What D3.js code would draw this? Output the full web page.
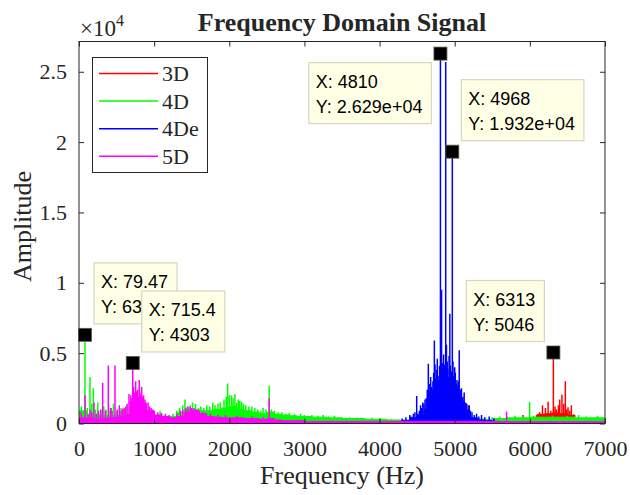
<!DOCTYPE html>
<html>
<head>
<meta charset="utf-8">
<script src="https://cdn.jsdelivr.net/npm/d3@7"></script>
<style>
  body { margin: 0; background: #fff; }
  text { font-family: "Liberation Serif", "Times New Roman", serif; fill: #262626; }
  .tip text { font-family: "Liberation Sans", Arial, sans-serif; fill: #000; }
</style>
</head>
<body>
<svg id="chart" width="630" height="495"></svg>
<script>
// spectra: noise floor in 100 Hz bins plus the visible spikes [Hz, amplitude]
const binHz = 100;

const floor3D = [
  80, 80, 80, 80, 80, 80, 80, 80, 80, 80,
  80, 80, 80, 80, 80, 80, 80, 80, 80, 80,
  80, 80, 80, 80, 80, 80, 80, 80, 80, 80,
  80, 80, 80, 80, 80, 80, 80, 80, 80, 80,
  80, 80, 80, 80, 80, 80, 80, 80, 80, 80,
  80, 80, 80, 80, 80, 80, 80, 80, 80, 80,
  150, 650, 700, 750, 700, 600, 200, 100, 100, 100
];
const floor4D = [
  900, 600, 600, 550, 550, 600, 650, 700, 700, 600,
  500, 450, 500, 800, 1000, 1000, 900, 900, 1000, 1100,
  1200, 1000, 900, 800, 700, 800, 650, 600, 550, 500,
  500, 450, 450, 400, 400, 350, 350, 350, 300, 300,
  300, 250, 250, 250, 250, 300, 300, 300, 300, 300,
  300, 300, 300, 300, 300, 350, 350, 400, 400, 400,
  450, 450, 450, 450, 450, 450, 400, 400, 400, 400
];
const floor4De = [
  30, 30, 30, 30, 30, 30, 30, 30, 30, 30,
  30, 30, 30, 30, 30, 30, 30, 30, 30, 30,
  30, 30, 30, 30, 30, 30, 30, 30, 30, 30,
  30, 30, 30, 30, 30, 30, 30, 30, 30, 30,
  30, 30, 80, 200, 400, 600, 1000, 1600, 2000, 1900,
  1400, 900, 400, 250, 200, 150, 80, 80, 80, 80,
  80, 80, 80, 80, 80, 80, 80, 80, 80, 80
];
const floor5D = [
  400, 350, 300, 350, 400, 450, 600, 1300, 1400, 900,
  600, 500, 400, 500, 800, 900, 700, 500, 450, 400,
  400, 400, 350, 350, 300, 350, 250, 200, 200, 200,
  150, 150, 150, 150, 150, 150, 150, 150, 150, 150,
  150, 150, 150, 150, 150, 150, 150, 150, 150, 150,
  150, 150, 150, 150, 150, 140, 140, 130, 130, 130,
  130, 130, 130, 130, 130, 130, 120, 120, 120, 120
];

const peaks3D = [
  [420, 1100], [5180, 1300], [5908, 600], [6088, 600], [6130, 800], [6168, 1300],
  [6207, 1100], [6243, 1550], [6280, 900], [6313, 5046], [6335, 1200], [6354, 1000],
  [6380, 1300], [6397, 1700], [6427, 2050], [6450, 1400], [6472, 3000], [6490, 1000],
  [6508, 1150], [6530, 900], [6552, 1300]
];
const peaks4D = [
  [30, 1200], [60, 900], [79.47, 6302], [110, 1100], [146, 3300], [170, 1400],
  [190, 2500], [220, 1000], [250, 1500], [290, 900], [330, 1200], [360, 1000],
  [400, 900], [430, 1100], [460, 1400], [500, 900], [560, 1100], [600, 1000],
  [640, 1300], [680, 1100], [720, 1000], [780, 900], [850, 1000], [900, 1000],
  [950, 800], [1000, 700], [1080, 900], [1150, 650], [1250, 700], [1300, 900],
  [1340, 1100], [1380, 1300], [1410, 1700], [1440, 1200], [1480, 1300], [1510, 1500],
  [1550, 1400], [1590, 1100], [1620, 1200], [1660, 1100], [1700, 1300], [1740, 1200],
  [1780, 1500], [1810, 1300], [1850, 1400], [1880, 1500], [1930, 1700], [1960, 1900],
  [1978, 2850], [2000, 2000], [2030, 2000], [2050, 1800], [2075, 2100], [2100, 1500],
  [2120, 1700], [2140, 1600], [2164, 1550], [2190, 1400], [2220, 1300], [2260, 1200],
  [2300, 1200], [2340, 1100], [2380, 1000], [2420, 900], [2450, 1100], [2490, 1000],
  [2531, 2700], [2560, 1000], [2600, 900], [2650, 800], [2700, 800], [2750, 700],
  [2800, 750], [2870, 650], [2950, 700], [3000, 600], [3100, 600], [3180, 550],
  [3250, 600], [3320, 500], [3400, 550], [3500, 450], [3600, 450], [3700, 400],
  [3800, 380], [3900, 400], [4000, 350], [4150, 320], [5300, 400], [5400, 420],
  [5500, 450], [5600, 500], [5700, 500], [5800, 550], [5900, 500], [5997, 1550],
  [6050, 550], [6300, 550], [6500, 550], [6650, 600], [6750, 500], [6900, 550]
];
const peaks4De = [
  [4300, 350], [4350, 450], [4402, 600], [4420, 500], [4450, 700], [4470, 800],
  [4494, 1950], [4510, 700], [4530, 900], [4545, 1300], [4560, 1100], [4575, 1500],
  [4590, 1400], [4605, 1700], [4620, 1800], [4635, 2400], [4649, 4250], [4660, 2800],
  [4670, 2200], [4680, 3300], [4690, 2600], [4700, 2400], [4710, 3000], [4720, 3600],
  [4729, 5900], [4738, 4200], [4745, 3200], [4752, 2900], [4760, 3800], [4768, 4600],
  [4775, 2800], [4783, 3100], [4790, 3400], [4798, 4100], [4810, 26290], [4818, 5200],
  [4825, 9500], [4835, 4300], [4845, 3600], [4852, 4900], [4860, 4200], [4870, 3800],
  [4880, 25700], [4890, 5600], [4900, 4400], [4908, 3900], [4915, 3300], [4925, 4800],
  [4935, 7800], [4943, 4100], [4950, 3500], [4958, 3700], [4968, 19320], [4977, 4400],
  [4985, 3400], [4993, 3200], [5000, 4000], [5008, 3600], [5015, 2900], [5022, 2800],
  [5030, 3100], [5038, 2700], [5045, 2600], [5052, 3000], [5060, 5200], [5068, 2400],
  [5075, 2400], [5082, 2100], [5090, 2500], [5100, 1800], [5110, 1900], [5118, 1600],
  [5126, 2200], [5135, 1200], [5145, 1500], [5160, 1400], [5175, 1000], [5194, 1300],
  [5210, 900], [5230, 800], [5260, 600], [5291, 700], [5320, 500], [5357, 600],
  [5400, 450], [5459, 500], [5520, 350]
];
const peaks5D = [
  [30, 800], [80, 2000], [120, 700], [146, 1000], [170, 800], [200, 1500],
  [230, 700], [260, 900], [290, 1000], [315, 2900], [350, 900], [390, 4130],
  [422, 1100], [440, 900], [479, 4130], [510, 1000], [537, 1300], [560, 900],
  [581, 1050], [600, 1100], [620, 1200], [640, 1400], [665, 2100], [680, 1600],
  [690, 2000], [700, 1800], [715.4, 4303], [725, 2600], [735, 2200], [745, 2000],
  [754, 3000], [765, 2300], [781, 2400], [790, 1900], [802, 3100], [810, 2200],
  [820, 2000], [834, 2600], [845, 1900], [860, 2000], [870, 1400], [878, 1700],
  [890, 1500], [920, 1500], [940, 1200], [960, 1100], [980, 1000], [1000, 900],
  [1050, 800], [1100, 750], [1150, 700], [1200, 600], [1300, 700], [1350, 900],
  [1380, 1000], [1420, 1100], [1450, 1200], [1480, 1200], [1500, 1100], [1530, 1100],
  [1560, 1000], [1600, 900], [1650, 800], [1750, 700], [1850, 600], [1950, 600],
  [2100, 550], [2300, 500], [2450, 450], [2531, 1800], [5690, 850]
];

const seriesNames = ["3D", "4D", "4De", "5D"];
const seriesColors = ["#ff0000", "#00ff00", "#0000ff", "#ff00ff"];
const seriesFloors = [floor3D, floor4D, floor4De, floor5D];
const seriesPeaks = [peaks3D, peaks4D, peaks4De, peaks5D];

// data tips
const tipFreq = [79.47, 715.4, 4810, 4968, 6313];
const tipAmp = [6302, 4303, 26290, 19320, 5046];
const tipSide = ["ne", "ne", "sw", "ne", "nw"];

const xTicks = [0, 1000, 2000, 3000, 4000, 5000, 6000, 7000];
const yTicks = [0, 5000, 10000, 15000, 20000, 25000];

const box = { left: 79, right: 605, top: 41.5, bottom: 423.5 };
const ink = "#262626";

const svg = d3.select("#chart");
const x = d3.scaleLinear().domain([0, 7000]).range([box.left, box.right]);
const y = d3.scaleLinear().domain([0, 27150]).range([box.bottom, box.top]);

svg.append("clipPath").attr("id", "plotClip")
  .append("rect")
  .attr("x", box.left).attr("y", box.top)
  .attr("width", box.right - box.left).attr("height", box.bottom - box.top);

const plot = svg.append("g").attr("clip-path", "url(#plotClip)");

const floorArea = d3.area()
  .curve(d3.curveStepAfter)
  .x(d => x(d[0]))
  .y0(y(0))
  .y1(d => y(d[1]));

seriesNames.forEach((name, i) => {
  const fl = seriesFloors[i];
  const pts = fl.map((v, k) => [k * binHz, v]);
  pts.push([7000, fl[fl.length - 1]]);
  const g = plot.append("g").attr("class", "series-" + name);
  g.append("path").datum(pts)
    .attr("d", floorArea)
    .attr("fill", seriesColors[i])
    .attr("stroke", seriesColors[i])
    .attr("stroke-width", 1);
  g.selectAll("line").data(seriesPeaks[i]).join("line")
    .attr("x1", d => x(d[0])).attr("x2", d => x(d[0]))
    .attr("y1", y(0)).attr("y2", d => y(d[1]))
    .attr("stroke", seriesColors[i])
    .attr("stroke-width", 1.5);
});

// axes, ticks pointing inward
const fontTick = 22;
const xAxis = svg.append("g").attr("transform", `translate(0,${box.bottom})`)
  .call(d3.axisBottom(x).tickValues(xTicks).tickFormat(d3.format("d"))
    .tickSizeInner(-5).tickSizeOuter(0).tickPadding(17));
const yAxis = svg.append("g").attr("transform", `translate(${box.left},0)`)
  .call(d3.axisLeft(y).tickValues(yTicks).tickFormat(d => String(d / 1e4))
    .tickSizeInner(-5).tickSizeOuter(0).tickPadding(12));
const xTop = svg.append("g").attr("transform", `translate(0,${box.top})`)
  .call(d3.axisTop(x).tickValues(xTicks).tickSizeInner(-5).tickSizeOuter(0).tickFormat(""));
const yRight = svg.append("g").attr("transform", `translate(${box.right},0)`)
  .call(d3.axisRight(y).tickValues(yTicks).tickSizeInner(-5).tickSizeOuter(0).tickFormat(""));

[xAxis, yAxis, xTop, yRight].forEach(a => {
  a.select(".domain").remove();
  a.selectAll("line").attr("stroke", ink);
  a.selectAll("text").attr("font-size", fontTick)
    .attr("font-family", "'Liberation Serif', 'Times New Roman', serif").attr("fill", ink);
});

svg.append("rect")
  .attr("x", box.left).attr("y", box.top)
  .attr("width", box.right - box.left).attr("height", box.bottom - box.top)
  .attr("fill", "none").attr("stroke", ink).attr("stroke-width", 1);

// exponent label
const expo = svg.append("text").attr("x", box.left + 1).attr("y", 36)
  .style("font-size", "23px");
expo.append("tspan").text("\u00d710");
expo.append("tspan").style("font-size", "16px").attr("dy", -10).text("4");

// titles
svg.append("text")
  .attr("x", (box.left + box.right) / 2).attr("y", 31)
  .attr("text-anchor", "middle").attr("font-size", 26).attr("font-weight", "bold")
  .attr("fill", "#000")
  .text("Frequency Domain Signal");
svg.append("text")
  .attr("x", (box.left + box.right) / 2).attr("y", 484)
  .attr("text-anchor", "middle").attr("font-size", 26)
  .text("Frequency (Hz)");
svg.append("text")
  .attr("transform", `translate(31,${(box.top + box.bottom) / 2 - 6}) rotate(-90)`)
  .attr("text-anchor", "middle").attr("font-size", 26)
  .text("Amplitude");

// legend
const legend = svg.append("g");
legend.append("rect")
  .attr("x", 92.5).attr("y", 57.5).attr("width", 115).attr("height", 115)
  .attr("fill", "#fff").attr("stroke", ink).attr("stroke-width", 1);
seriesNames.forEach((name, i) => {
  const ly = 73.5 + i * 27.6;
  legend.append("line")
    .attr("x1", 99).attr("x2", 158).attr("y1", ly).attr("y2", ly)
    .attr("stroke", seriesColors[i]).attr("stroke-width", 1.5);
  legend.append("text")
    .attr("x", 162).attr("y", ly).attr("dy", "0.35em")
    .attr("font-size", 22).attr("fill", "#000")
    .text(name);
});

// data tips
const fmtX = d3.format(".4~g");
const fmtY = v => v >= 1e4
  ? v.toExponential(3).replace(/e([+-])(\d)$/, "e$10$2")
  : d3.format(".4~g")(v);

tipFreq.forEach((f, i) => {
  const mx = x(f), my = y(tipAmp[i]);
  const g = svg.append("g").attr("class", "tip");
  const bx = g.append("rect").attr("fill", "#ffffe6").attr("stroke", "#d6d6c2").attr("stroke-width", 1.2);
  const t1 = g.append("text").attr("font-size", 18).text("X: " + fmtX(f));
  const t2 = g.append("text").attr("font-size", 18).text("Y: " + fmtY(tipAmp[i]));
  const w = Math.max(t1.node().getComputedTextLength(), t2.node().getComputedTextLength()) + 16;
  const h = 61;
  const side = tipSide[i];
  const left = side.includes("e") ? mx + 9 : mx - 9 - w;
  const top = side.includes("n") ? my - 11 - h : my + 9;
  bx.attr("x", left).attr("y", top).attr("width", w).attr("height", h);
  t1.attr("x", left + 7).attr("y", top + 25.5);
  t2.attr("x", left + 7).attr("y", top + 50.5);
  g.append("rect")
    .attr("x", mx - 6.5).attr("y", my - 6.5).attr("width", 13).attr("height", 13)
    .attr("fill", "#000").attr("stroke", "#5a5a40").attr("stroke-width", 0.8);
});
</script>
</body>
</html>
